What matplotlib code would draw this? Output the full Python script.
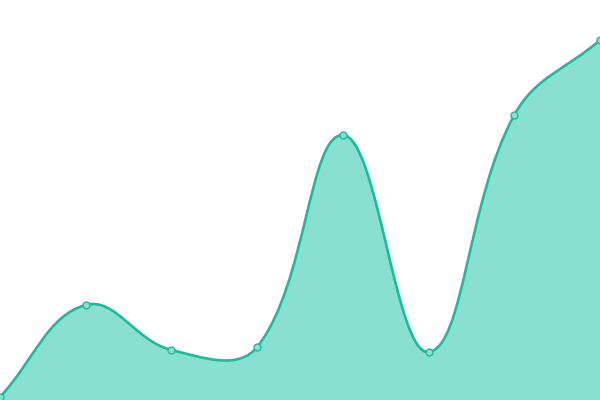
import matplotlib
matplotlib.use("Agg")
import matplotlib.pyplot as plt
import numpy as np
from matplotlib.path import Path
from matplotlib.patches import PathPatch

categories = list(range(8))
values = [3, 95, 50, 53, 265, 48, 285, 360]

LINE = "#1abc9c"
FILL = "#8ae0d0"
TENSION = 0.4

W, H = 600, 400
fig = plt.figure(figsize=(6, 4), dpi=100)
ax = fig.add_axes([0, 0, 1, 1])
xmax = len(categories) - 1
ymax = 400
ax.set_xlim(0, xmax)
ax.set_ylim(0, ymax)
ax.axis("off")

# work in pixel units so the spline tension behaves like a canvas chart
sx, sy = W / xmax, H / ymax
pts = np.column_stack([np.array(categories) * sx, np.array(values) * sy])


def bezier_path(p, t):
    n = len(p)
    cps = []
    for i in range(n):
        prev = p[max(i - 1, 0)]
        cur = p[i]
        nxt = p[min(i + 1, n - 1)]
        d01 = np.hypot(*(cur - prev))
        d12 = np.hypot(*(nxt - cur))
        tot = d01 + d12
        s01 = d01 / tot if tot else 0
        s12 = d12 / tot if tot else 0
        cps.append((cur - t * s01 * (nxt - prev), cur + t * s12 * (nxt - prev)))
    verts = [p[0]]
    codes = [Path.MOVETO]
    for i in range(n - 1):
        verts += [cps[i][1], cps[i + 1][0], p[i + 1]]
        codes += [Path.CURVE4] * 3
    return np.array(verts), codes


verts, codes = bezier_path(pts, TENSION)
verts = verts / [sx, sy]

fill_verts = np.vstack([verts, [[verts[-1, 0], 0], [verts[0, 0], 0], verts[0]]])
fill_codes = codes + [Path.LINETO, Path.LINETO, Path.CLOSEPOLY]
ax.add_patch(PathPatch(Path(fill_verts, fill_codes), facecolor=FILL,
                       edgecolor="none", zorder=1))
ax.add_patch(PathPatch(Path(verts, codes), facecolor="none", edgecolor=LINE,
                       lw=1.9, zorder=2, clip_on=False))
ax.plot(categories, values, "o", ms=5, mfc=FILL, mec=LINE, mew=1.0,
        zorder=3, clip_on=False)

fig.savefig("out.png", dpi=100)
